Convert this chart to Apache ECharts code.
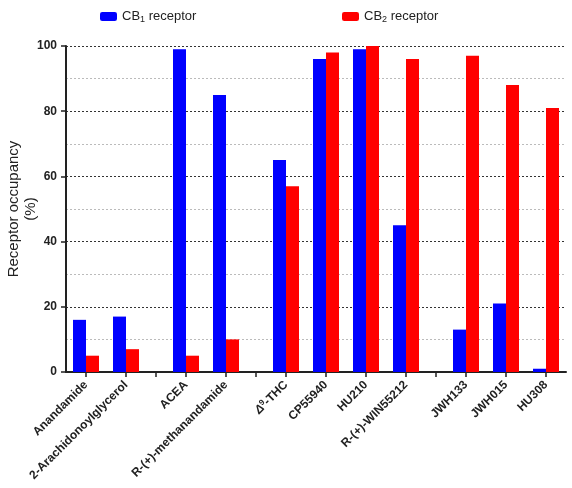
<!DOCTYPE html>
<html>
<head>
<meta charset="utf-8">
<script src="https://cdn.jsdelivr.net/npm/echarts@6/dist/echarts.min.js"></script>
<style>html,body{margin:0;padding:0;background:#fff}#c{width:572px;height:488px}</style>
</head>
<body>
<div id="c"></div>
<script>
// ---- data ----
const categories = ['Anandamide','2-Arachidonoylglycerol','ACEA','R-(+)-methanandamide','Δ9-THC','CP55940','HU210','R-(+)-WIN55212','JWH133','JWH015','HU308'];
const cb1Values = [16,17,99,85,65,96,99,45,13,21,1];
const cb2Values = [5,7,5,10,57,98,100,96,97,88,81];
const gapBefore = [2,4,8];          // group breaks (index of the category after an empty tick)
const yTicks = [0,20,40,60,80,100];
const seriesNames = ['CB1 receptor','CB2 receptor'];

// ---- layout of slots on the category axis (unit steps) ----
const PAD = 2, STEP = 4, HALF = 3;
const slotKeys = [], slotCat = [], tickSlot = [];
let pos = PAD;
categories.forEach((c, i) => {
  if (i > 0) {
    if (gapBefore.includes(i)) { tickSlot.push(pos + HALF); pos += 2 * HALF; }
    else pos += STEP;
  }
  slotCat[pos] = i;
  tickSlot.push(pos);
});
const totalSlots = pos + PAD + 1;
for (let s = 0; s < totalSlots; s++) slotKeys.push('s' + s);
const mkData = vals => slotKeys.map((k, s) => slotCat[s] !== undefined ? vals[slotCat[s]] : '-');

const chart = echarts.init(document.getElementById('c'));
const font = 'Liberation Sans, Arial, sans-serif';
const legendRich = { sub: { fontSize: 9, verticalAlign: 'bottom', padding: [6,0,0,0], fontFamily: font, color: '#222' }, n: { fontSize: 13, fontFamily: font, color: '#222' } };
const legendFmt = name => name === seriesNames[0] ? '{n|CB}{sub|1}{n| receptor}' : '{n|CB}{sub|2}{n| receptor}';

chart.setOption({
  animation: false,
  legend: [
    { data: [seriesNames[0]], left: 95, top: 5, itemWidth: 17, itemHeight: 9, itemGap: 8, formatter: legendFmt, textStyle: { rich: legendRich } },
    { data: [seriesNames[1]], left: 337, top: 5, itemWidth: 17, itemHeight: 9, itemGap: 8, formatter: legendFmt, textStyle: { rich: legendRich } }
  ],
  grid: { left: 66, right: 6, top: 46, bottom: 116, containLabel: false, outerBoundsMode: 'none' },
  xAxis: {
    type: 'category',
    data: slotKeys,
    boundaryGap: false,
    axisLine: { lineStyle: { color: '#222', width: 2 } },
    axisTick: { show: true, length: 5, lineStyle: { color: '#222', width: 1.5 }, interval: (i) => tickSlot.includes(i) },
    axisLabel: {
      interval: (i) => slotCat[i] !== undefined,
      rotate: 45, margin: 11,
      fontFamily: font, fontSize: 12, fontWeight: 'bold', color: '#222',
      formatter: (v, i) => {
        const c = slotCat[i];
        if (c === undefined) return '';
        const name = categories[c];
        if (name === 'Δ9-THC') return '{d|Δ}{s|9}{b|-THC}';
        return name;
      },
      rich: {
        d: { fontStyle: 'italic', fontFamily: font, fontSize: 12, color: '#222' },
        s: { fontFamily: font, fontSize: 8, fontWeight: 'bold', verticalAlign: 'top', padding: [0,0,6,0], color: '#222' },
        b: { fontFamily: font, fontSize: 12, fontWeight: 'bold', color: '#222' }
      }
    },
    splitLine: { show: false }
  },
  yAxis: {
    type: 'value', min: yTicks[0], max: yTicks[yTicks.length - 1], interval: yTicks[1] - yTicks[0],
    name: 'Receptor occupancy\n(%)', nameLocation: 'middle', nameGap: 27, nameMoveOverlap: false,
    nameTextStyle: { fontFamily: font, fontSize: 15, color: '#222', lineHeight: 17 },
    axisLine: { show: true, lineStyle: { color: '#222', width: 2 } },
    axisTick: { show: true, length: 5, lineStyle: { color: '#222', width: 1.5 } },
    axisLabel: { fontFamily: font, fontSize: 12, fontWeight: 'bold', color: '#222', margin: 9 },
    splitLine: { show: true, lineStyle: { color: '#333', type: [2, 2], width: 1 } },
    minorTick: { show: false, splitNumber: 2 },
    minorSplitLine: { show: true, lineStyle: { color: '#bbb', type: [2, 2], width: 1 } }
  },
  series: [
    { name: seriesNames[0], type: 'bar', data: mkData(cb1Values), barWidth: 13, barGap: '0%', itemStyle: { color: '#0000ff' } },
    { name: seriesNames[1], type: 'bar', data: mkData(cb2Values), barWidth: 13, barGap: '0%', itemStyle: { color: '#ff0000' } }
  ]
});
</script>
</body>
</html>
